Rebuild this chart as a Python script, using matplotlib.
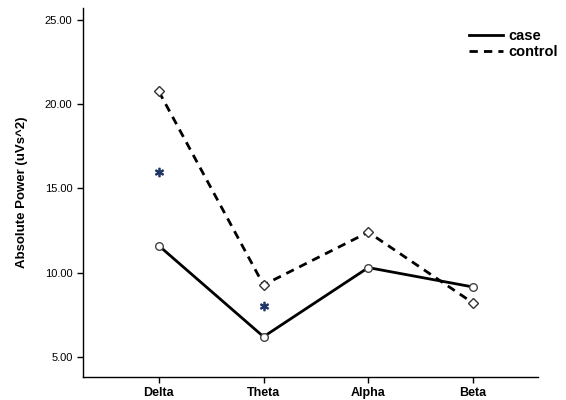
import matplotlib
matplotlib.use("Agg")
import matplotlib.pyplot as plt

categories = ["Delta", "Theta", "Alpha", "Beta"]
case_vals = [11.6, 6.2, 10.3, 9.15]
control_vals = [20.75, 9.27, 12.4, 8.2]
sig_vals = [15.97, 8.05]  # asterisk positions for Delta, Theta
sig_idx = [0, 1]
yticks = [5, 10, 15, 20, 25]

plt.rcParams['font.family'] = ['Liberation Sans', 'DejaVu Sans']

fig = plt.figure(figsize=(5.66, 4.0), dpi=100)
ax = fig.add_axes([0.1466, 0.0575, 0.9505 - 0.1466, 0.98 - 0.0575])

x = list(range(len(categories)))
ax.plot(x, case_vals, color='black', lw=2.0, marker='o', ms=5.5, mfc='white',
        mec='#444444', mew=1.0, label='case')
ax.plot(x, control_vals, color='black', lw=2.0, ls=(0, (3, 2.2)), marker='D', ms=5,
        mfc='white', mec='#333333', mew=1.0, label='control')
ax.plot(sig_idx, sig_vals, ls='none', marker=r'$\ast$', ms=6, color='#1f3566')

ax.set_xlim(-0.724, 3.62)
ax.set_ylim(3.81, 25.7)
ax.set_xticks(x)
ax.set_xticklabels(categories, fontsize=9, fontweight='bold')
ax.set_yticks(yticks)
ax.set_yticklabels([f"{t:.2f}" for t in yticks], fontsize=8)
ax.tick_params(direction='out', length=4, width=1, colors='black')
for s in ['top', 'right']:
    ax.spines[s].set_visible(False)
for s in ['left', 'bottom']:
    ax.spines[s].set_linewidth(1.0)
ax.set_ylabel("Absolute Power (uVs^2)", fontsize=9.5, fontweight='bold', labelpad=12)

leg = ax.legend(loc='upper right', bbox_to_anchor=(1.067, 0.97), frameon=False,
                prop={'weight': 'bold', 'size': 10.5}, handlelength=2.3,
                handletextpad=0.4, labelspacing=0.15, markerscale=0,
                borderpad=0.2)
for h in leg.legend_handles:
    h.set_marker('')

fig.savefig("out.png", dpi=100)
